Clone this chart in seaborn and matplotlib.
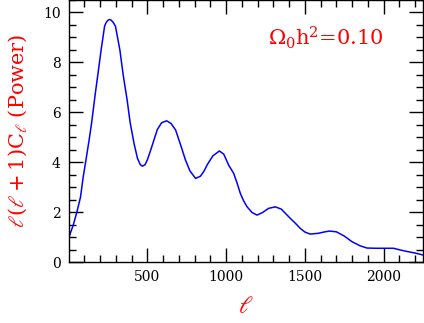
import numpy as np
import pandas as pd
import matplotlib
matplotlib.use('Agg')
import matplotlib.pyplot as plt
from matplotlib.ticker import MultipleLocator
import seaborn as sns

# multipole values
ell = [2, 30, 52, 75, 92, 110, 130, 145, 156, 170, 185, 206, 228, 238, 250,
       260, 270, 283, 297, 325, 346, 371, 390, 415, 437, 455, 468, 485, 500,
       521, 542, 563, 590, 622, 650, 679, 711, 742, 770, 806, 837, 860, 880,
       915, 957, 985, 1016, 1048, 1070, 1090, 1111, 1133, 1165, 1196, 1230,
       1270, 1312, 1350, 1407, 1440, 1470, 1500, 1533, 1586, 1620, 1655,
       1700, 1750, 1800, 1850, 1894, 1950, 2000, 2063, 2100, 2150, 2200, 2250]
power = [1.0, 1.5, 2.0, 2.6, 3.4, 4.1, 4.9, 5.55, 6.1, 6.8, 7.5, 8.5, 9.45,
         9.6, 9.69, 9.72, 9.69, 9.6, 9.45, 8.5, 7.5, 6.5, 5.6, 4.75, 4.15,
         3.9, 3.84, 3.9, 4.1, 4.49, 4.9, 5.31, 5.58, 5.66, 5.55, 5.29, 4.69,
         4.08, 3.65, 3.35, 3.44, 3.65, 3.9, 4.25, 4.45, 4.32, 3.88, 3.55,
         3.15, 2.75, 2.45, 2.21, 1.98, 1.88, 1.98, 2.15, 2.21, 2.12, 1.75,
         1.55, 1.35, 1.2, 1.12, 1.15, 1.2, 1.24, 1.21, 1.04, 0.81, 0.65,
         0.56, 0.55, 0.55, 0.55, 0.49, 0.42, 0.36, 0.28]

df = pd.DataFrame({'ell': ell, 'power': power})

sns.set_style('ticks')
plt.rcParams['font.family'] = ['DejaVu Serif']
plt.rcParams['mathtext.fontset'] = 'dejavuserif'

fig = plt.figure(figsize=(4.24, 3.23), dpi=100)
ax = fig.add_axes([69 / 424, 61 / 323, 354 / 424, 262 / 323])

sns.lineplot(data=df, x='ell', y='power', color='#0000ff', linewidth=1.1, ax=ax)

ax.set_xlim(2, 2250)
ax.set_ylim(0, 10.5)
ax.xaxis.set_major_locator(MultipleLocator(500))
ax.xaxis.set_minor_locator(MultipleLocator(100))
ax.yaxis.set_major_locator(MultipleLocator(2))
ax.yaxis.set_minor_locator(MultipleLocator(0.5))
ax.tick_params(which='both', direction='in', top=True, right=True,
               width=1, color='black', labelsize=10, labelcolor='black')
ax.tick_params(which='major', length=10, pad=6)
ax.tick_params(which='minor', length=5)
ax.set_xticks([500, 1000, 1500, 2000])
for s in ax.spines.values():
    s.set_linewidth(1)
    s.set_color('black')

ax.set_xlabel(r'$\ell$', color='red', fontsize=17, labelpad=8)
ax.set_ylabel(r'$\ell(\ell+1)$C$_\ell$ (Power)', color='red', fontsize=15, labelpad=10)
ax.text(0.725, 0.855, r'$\Omega_0$h$^2$=0.10', transform=ax.transAxes,
        color='red', fontsize=15, ha='center', va='center')

fig.savefig('out.png', dpi=100)
